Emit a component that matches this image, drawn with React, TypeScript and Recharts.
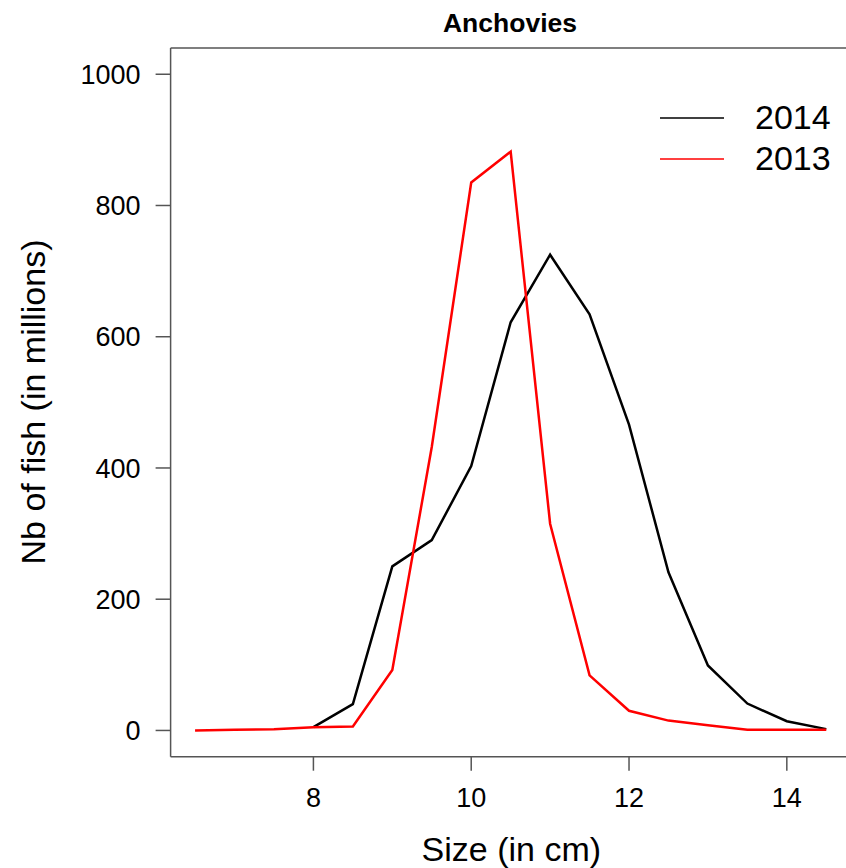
import React from 'react';
import { Label, Legend, Line, LineChart, ReferenceLine, XAxis, YAxis } from 'recharts';

// size classes (cm)
const sizes = [6.5, 7, 7.5, 8, 8.5, 9, 9.5, 10, 10.5, 11, 11.5, 12, 12.5, 13, 13.5, 14, 14.5];
// numbers of fish, in millions
const fish2014 = [null, null, null, 5, 40, 250, 290, 403, 622, 725, 634, 466, 241, 99, 41, 14, 2];
const fish2013 = [0, 1, 2, 5, 6, 92, 432, 835, 882, 315, 84, 30, 15, 8, 1, 1, 1];

const xTicks = [8, 10, 12, 14];
const yTicks = [0, 200, 400, 600, 800, 1000];

const data = sizes.map((size, i) => ({ size, y2014: fish2014[i], y2013: fish2013[i] }));

const FONT = '"Liberation Sans", Arial, sans-serif';
const AXIS = '#555';

if (typeof document !== 'undefined') document.body.style.margin = '0';

const renderLegend = (props: any) => {
  const items = [...(props.payload || [])].sort((a: any, b: any) => (a.value < b.value ? 1 : -1));
  return (
    <div style={{ fontFamily: FONT }}>
      {items.map((entry: any) => (
        <div key={entry.value} style={{ display: 'flex', alignItems: 'center', height: 41 }}>
          <svg width={64} height={4} style={{ marginRight: 31 }}>
            <line x1={0} y1={2} x2={64} y2={2} stroke={entry.color} strokeWidth={1.5} />
          </svg>
          <span style={{ fontSize: 34, color: '#000' }}>{entry.value}</span>
        </div>
      ))}
    </div>
  );
};

function App() {
  return (
    <div style={{ position: 'relative', width: 846, height: 868, background: '#fff' }}>
      <svg width={846} height={60} style={{ position: 'absolute', left: 0, top: 0, pointerEvents: 'none' }}>
        <text x={510} y={32} textAnchor="middle" fontFamily={FONT} fontWeight="bold" fontSize={26.5} fill="#000">
          Anchovies
        </text>
      </svg>
      <LineChart width={846} height={868} data={data} margin={{ top: 48, right: 0, bottom: 0, left: 0 }}>
        <XAxis
          type="number"
          dataKey="size"
          domain={[6.19, 14.75]}
          ticks={xTicks}
          allowDataOverflow
          height={111.3}
          tickSize={14}
          tickMargin={17}
          stroke={AXIS}
          strokeWidth={1.5}
          tick={{ fill: '#000', fontSize: 27, fontFamily: FONT }}
        >
          <Label
            content={({ viewBox }: any) => (
              <text
                x={viewBox.x + viewBox.width / 2 + 3}
                y={861}
                textAnchor="middle"
                fontFamily={FONT}
                fontSize={34}
                fill="#000"
              >
                Size (in cm)
              </text>
            )}
          />
        </XAxis>
        <YAxis
          type="number"
          domain={[-40, 1040]}
          ticks={yTicks}
          allowDataOverflow
          width={170.6}
          tickSize={15}
          tickMargin={15}
          stroke={AXIS}
          strokeWidth={1.5}
          tick={{ fill: '#000', fontSize: 27, fontFamily: FONT }}
        >
          <Label
            content={() => (
              <text
                x={45}
                y={402}
                transform="rotate(-90 45 402)"
                textAnchor="middle"
                fontFamily={FONT}
                fontSize={34}
                fill="#000"
              >
                Nb of fish (in millions)
              </text>
            )}
          />
        </YAxis>
        <ReferenceLine y={1040} stroke={AXIS} strokeWidth={1.5} />
        <Legend
          layout="vertical"
          align="center"
          verticalAlign="middle"
          content={renderLegend}
          wrapperStyle={{ top: 97, left: 660, width: 186 }}
        />
        <Line
          type="linear"
          dataKey="y2014"
          name="2014"
          stroke="#000000"
          strokeWidth={2.5}
          dot={false}
          connectNulls={false}
          isAnimationActive={false}
        />
        <Line
          type="linear"
          dataKey="y2013"
          name="2013"
          stroke="#ff0000"
          strokeWidth={2.5}
          dot={false}
          isAnimationActive={false}
        />
      </LineChart>
    </div>
  );
}

export default App;
